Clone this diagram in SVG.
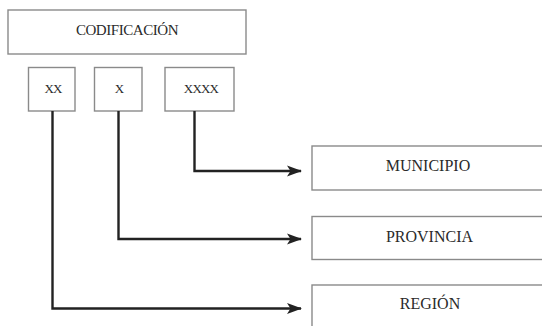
<svg xmlns="http://www.w3.org/2000/svg" width="542" height="326" viewBox="0 0 542 326">
<defs>
<style>
.box{fill:#fff;stroke:#8a8a8a;stroke-width:1.4}
.t{font-family:"Liberation Serif","Times New Roman",serif;fill:#2a2a2a;text-anchor:middle}
.big{font-size:16px}
.code{font-size:13px;letter-spacing:-0.8px}
.conn{fill:none;stroke:#222;stroke-width:2.4}
</style>
<marker id="arr" markerUnits="userSpaceOnUse" markerWidth="16" markerHeight="12" refX="14" refY="6" orient="auto">
<path d="M0,0.5 L15,6 L0,11.5 L3.5,6 Z" fill="#222"/>
</marker>
</defs>
<rect width="542" height="326" fill="#fff"/>
<g id="codificacion">
<rect class="box" x="8" y="10" width="238" height="44"/>
<text class="t" x="127" y="35" font-size="15" letter-spacing="-0.45">CODIFICACIÓN</text>
</g>
<g id="xx">
<rect class="box" x="28.5" y="67.5" width="46.5" height="43.5"/>
<text class="t code" x="53" y="93">XX</text>
</g>
<g id="x">
<rect class="box" x="94.5" y="67.5" width="47.5" height="43.5"/>
<text class="t code" x="119" y="93">X</text>
</g>
<g id="xxxx">
<rect class="box" x="165" y="67.5" width="69" height="43.5"/>
<text class="t code" x="201" y="93">XXXX</text>
</g>
<g id="municipio">
<rect class="box" x="312" y="146" width="240" height="44"/>
<text class="t big" x="428" y="171">MUNICIPIO</text>
</g>
<g id="provincia">
<rect class="box" x="312" y="216.5" width="240" height="43"/>
<text class="t big" x="429.5" y="241.5">PROVINCIA</text>
</g>
<g id="region">
<rect class="box" x="312" y="285" width="240" height="60"/>
<text class="t big" x="430" y="309">REGIÓN</text>
</g>
<g id="connectors">
<path class="conn" d="M194.5,111 V171 H301" marker-end="url(#arr)"/>
<path class="conn" d="M118.5,111 V239 H301" marker-end="url(#arr)"/>
<path class="conn" d="M52.5,111 V308.5 H301" marker-end="url(#arr)"/>
</g>
</svg>
